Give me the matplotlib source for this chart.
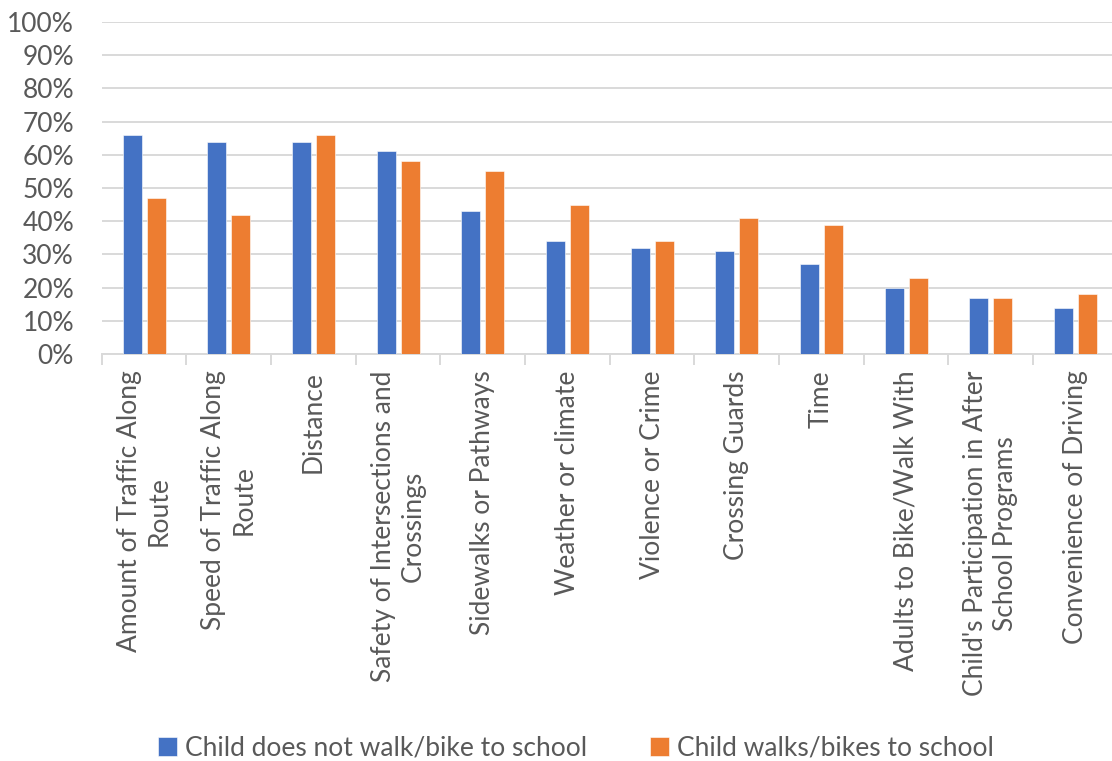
import matplotlib

matplotlib.use("Agg")
import matplotlib.pyplot as plt
import numpy as np
from matplotlib.ticker import PercentFormatter

_TEXT = "#595959"
_GRID = "#D9D9D9"
_BLUE = "#4472C4"
_ORANGE = "#ED7D31"

categories = [
    "Amount of Traffic Along\nRoute",
    "Speed of Traffic Along\nRoute",
    "Distance",
    "Safety of Intersections and\nCrossings",
    "Sidewalks or Pathways",
    "Weather or climate",
    "Violence or Crime",
    "Crossing Guards",
    "Time",
    "Adults to Bike/Walk With",
    "Child's Participation in After\nSchool Programs",
    "Convenience of Driving",
]
not_walk = [66, 64, 64, 61, 43, 34, 32, 31, 27, 20, 17, 14]
walks = [47, 42, 66, 58, 55, 45, 34, 41, 39, 23, 17, 18]
series_names = ["Child does not walk/bike to school", "Child walks/bikes to school"]

plt.rcParams["font.family"] = ["Lato", "DejaVu Sans"]

fig = plt.figure(figsize=(11.12, 7.61), dpi=100)
ax = fig.add_axes([101.8 / 1112, 1 - 354 / 761, 1016 / 1112, 332 / 761])

x = np.arange(len(categories))
w = 0.224
ax.bar(x - 0.142, not_walk, w, color=_BLUE, edgecolor="white", linewidth=0.4,
       label=series_names[0], zorder=3)
ax.bar(x + 0.142, walks, w, color=_ORANGE, edgecolor="white", linewidth=0.4,
       label=series_names[1], zorder=3)

ax.set_xlim(-0.5, len(categories) - 0.5)
ax.set_ylim(0, 100)
ax.set_yticks(range(0, 101, 10))
ax.yaxis.set_major_formatter(PercentFormatter(decimals=0))
ax.grid(True, axis="y", color=_GRID, linewidth=1.4, zorder=0)
ax.set_axisbelow(True)

for s in ("top", "right", "left"):
    ax.spines[s].set_visible(False)
ax.spines["bottom"].set_color(_GRID)
ax.spines["bottom"].set_linewidth(1.4)

ax.set_xticks(x)
ax.set_xticklabels(categories, rotation=90, ha="center", va="top",
                   multialignment="center", fontsize=19, color=_TEXT,
                   linespacing=1.25)
ax.tick_params(axis="x", length=0, pad=12)
ax.set_xticks(np.arange(-0.5, len(categories), 1), minor=True)
ax.tick_params(axis="x", which="minor", length=8, width=1.4, color=_GRID)
ax.tick_params(axis="y", length=0, labelsize=19, labelcolor=_TEXT, pad=20)

fig.legend(loc="lower center", bbox_to_anchor=(0.518, -0.031), ncol=2, frameon=False,
           fontsize=19, labelcolor=_TEXT, handlelength=0.7, handleheight=0.7,
           handletextpad=0.3, columnspacing=2.4)

fig.savefig("out.png", dpi=100, facecolor="white")
